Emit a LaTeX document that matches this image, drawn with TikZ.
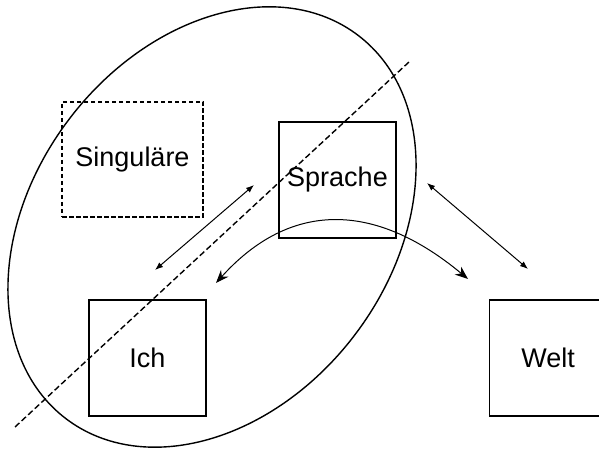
\documentclass[tikz,border=0pt]{standalone}
\usepackage{fontspec}
\setmainfont{Liberation Sans}
\usepackage{tikz}
\usetikzlibrary{arrows.meta}

\begin{document}
\begin{tikzpicture}[x=1pt,y=1pt,font=\fontsize{27pt}{32pt}\selectfont,box/.style={shape=rectangle,draw=black,line width=1.1pt,inner sep=0pt,minimum width=\bw,minimum height=\bh},boxD/.style={box,dashed,dash pattern=on 4.5pt off 2.5pt,line width=1.4pt,minimum width=141pt,minimum height=115pt},link/.style={line width=1pt,{Latex[length=8pt,width=6pt]}-{Latex[length=8pt,width=6pt]}},swing/.style={line width=1pt,{Stealth[length=13pt,width=10pt]}-{Stealth[length=13pt,width=10pt]}}]
\def\bw{117pt};
\def\bh{116pt};

\clip (0,0) rectangle (599,449);

\draw[line width=1.4pt,rotate around={52.6:(212,222)}] (212,222) ellipse (241pt and 179pt);

\coordinate (cutA) at (15,22);
\coordinate (cutB) at (409,387);
\draw[line width=1.4pt,dash pattern=on 6pt off 3pt] (cutA) -- (cutB);

\node[boxD] (Sing) at (132.5,289.5) {Singuläre};
\node[box] (Spr) at (337.5,269) {Sprache};
\node[box] (Ich) at (147.5,91) {Ich};
\node[box] (Welt) at (548,91) {Welt};

\coordinate (ich1) at (155,179);
\coordinate (spr1) at (254,264);
\draw[link] (ich1) -- (spr1);

\coordinate (spr2) at (427,266);
\coordinate (welt1) at (528,180);
\draw[link] (spr2) -- (welt1);

\coordinate (ich2) at (216,166);
\coordinate (welt2) at (468,170);
\draw[swing] (ich2) .. controls (289,247) and (373,249) .. (welt2);
\end{tikzpicture}
\end{document}
